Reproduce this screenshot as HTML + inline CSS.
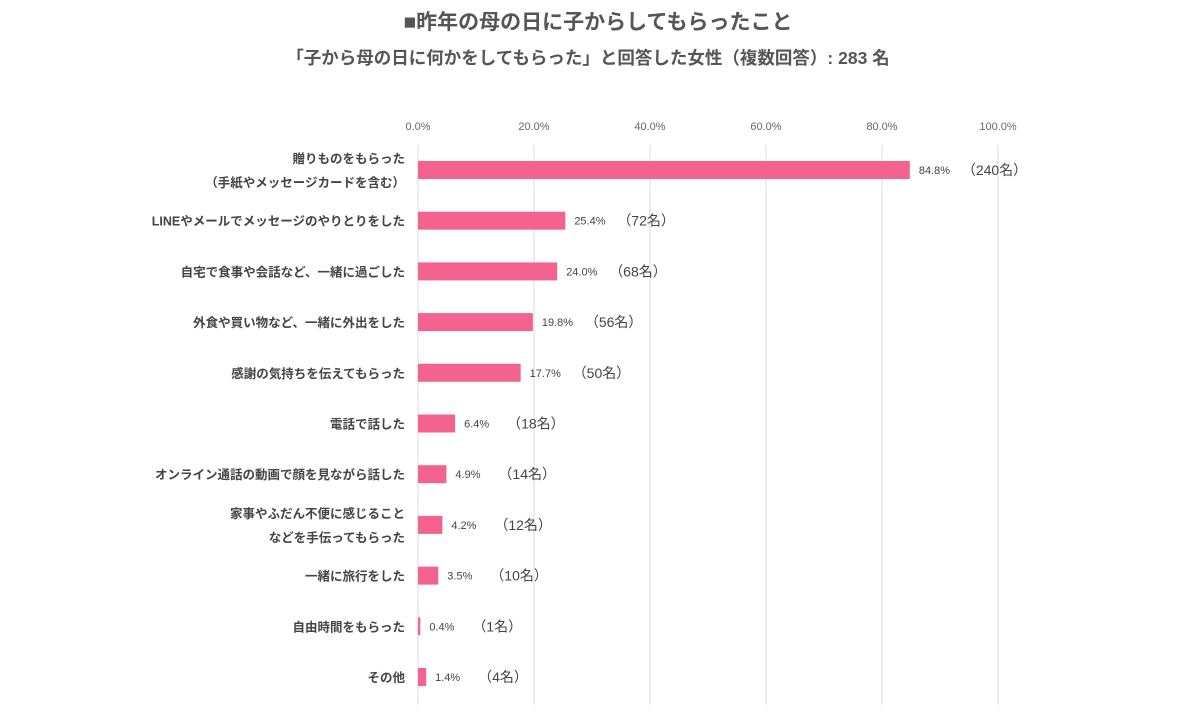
<!DOCTYPE html>
<html><head><meta charset="utf-8">
<style>
body{margin:0;background:#fff;font-family:"Liberation Sans","Noto Sans CJK JP",sans-serif;}
svg text{font-family:"Liberation Sans","Noto Sans CJK JP",sans-serif;}
</style></head>
<body>
<svg width="1200" height="716" viewBox="0 0 1200 716">
<text x="598" y="29" text-anchor="middle" font-size="21" font-weight="bold" fill="#555">■昨年の母の日に子からしてもらったこと</text>
<text x="588" y="64" text-anchor="middle" font-size="17.5" font-weight="bold" fill="#555">「子から母の日に何かをしてもらった」と回答した女性（複数回答）: 283 名</text>
<g id="grid"></g>
<g id="bars"></g>
</svg>
<script>
const categories=[["贈りものをもらった","（手紙やメッセージカードを含む）"],["LINEやメールでメッセージのやりとりをした"],["自宅で食事や会話など、一緒に過ごした"],["外食や買い物など、一緒に外出をした"],["感謝の気持ちを伝えてもらった"],["電話で話した"],["オンライン通話の動画で顔を見ながら話した"],["家事やふだん不便に感じること","などを手伝ってもらった"],["一緒に旅行をした"],["自由時間をもらった"],["その他"]];
const values=[84.8,25.4,24.0,19.8,17.7,6.4,4.9,4.2,3.5,0.4,1.4];
const counts=[240,72,68,56,50,18,14,12,10,1,4];
const ticks=[0,20,40,60,80,100];
const NS="http://www.w3.org/2000/svg";
const x0=418,x1=998,y0=170,step=50.7,bh=18;
const xs=v=>x0+(x1-x0)*v/100;
const ys=i=>y0+i*step;
function mk(t,a,p){const e=document.createElementNS(NS,t);for(const k in a)e.setAttribute(k,a[k]);p.appendChild(e);return e;}
const grid=document.getElementById('grid'),bars=document.getElementById('bars');
ticks.forEach(t=>{
 const l=mk('line',{x1:xs(t),x2:xs(t),y1:145,y2:705,stroke:'#d9d9d9','stroke-width':1},grid);
 
 
 const tx=mk('text',{x:xs(t),y:130,'text-anchor':'middle','font-size':11,fill:'#666'},grid);
 tx.textContent=t.toFixed(1)+'%';
 
 
});
values.forEach((v,i)=>{
 const y=ys(i);
 const r=mk('rect',{x:x0,y:y-bh/2,width:xs(v)-x0,height:bh,fill:'#f4628f'},bars);
 
 
 const lines=categories[i];
 lines.forEach((s,j)=>{
  const ty=y+5+(lines.length===2?(j===0?-12:12):0);
  const t=mk('text',{x:405,y:ty,'text-anchor':'end','font-size':12.5,'font-weight':'bold',fill:'#444'},bars);
  t.textContent=s;
  
  
 });
 const p=mk('text',{x:xs(v)+9,y:y+4,'font-size':11,fill:'#444'},bars);
 p.textContent=v.toFixed(1)+'%';
 
 
 const c=mk('text',{x:xs(v)+52,y:y+5,'font-size':14,fill:'#444'},bars);
 c.textContent='（'+counts[i]+'名）';
 
 
});
</script>
</body></html>
